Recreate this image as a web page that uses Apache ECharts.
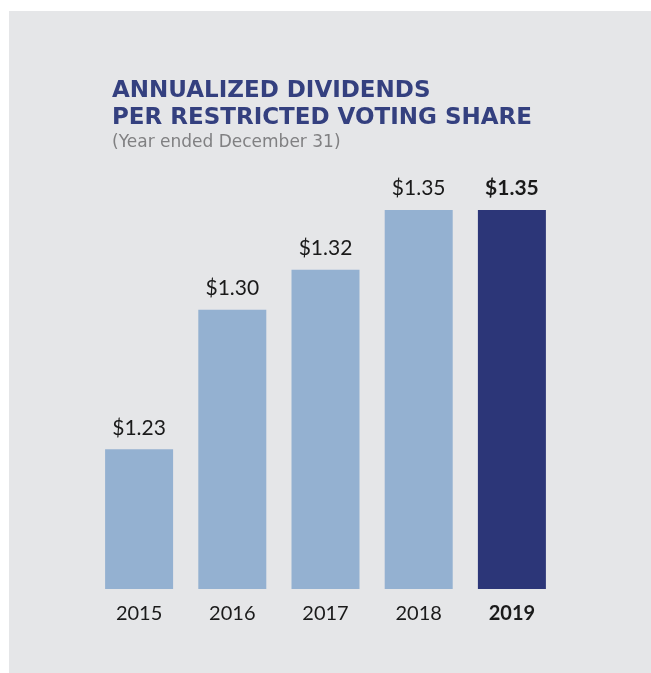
<!DOCTYPE html>
<html>
<head>
<meta charset="utf-8">
<script src="https://cdn.jsdelivr.net/npm/echarts@6/dist/echarts.min.js"></script>
<style>
  html, body { margin: 0; padding: 0; background: #ffffff; }
  #chart { width: 651px; height: 673px; }
</style>
</head>
<body>
<div id="chart"></div>
<script>
// Annualized dividends per restricted voting share, by year
const years = ['2015', '2016', '2017', '2018', '2019'];
const dividends = [1.23, 1.30, 1.32, 1.35, 1.35];
const highlightYear = '2019';

const lightBlue = '#94B1D1';
const navy = '#2C3678';

const chart = echarts.init(document.getElementById('chart'), null, { renderer: 'canvas' });

const barData = years.map((y, i) => {
  const hi = y === highlightYear;
  return {
    value: dividends[i],
    itemStyle: { color: hi ? navy : lightBlue },
    label: { fontWeight: hi ? 'bold' : 'normal' }
  };
});

chart.setOption({
  backgroundColor: '#ffffff',
  animation: false,
  graphic: [{
    type: 'rect',
    z: -10,
    silent: true,
    shape: { x: 9, y: 11, width: 642, height: 662 },
    style: { fill: '#E5E6E8' }
  }],
  title: {
    text: 'ANNUALIZED DIVIDENDS\nPER RESTRICTED VOTING SHARE',
    subtext: '(Year ended December 31)',
    left: 107,
    top: 73,
    itemGap: 2,
    textStyle: {
      fontFamily: 'DejaVu Sans',
      fontSize: 23,
      fontWeight: 'bold',
      lineHeight: 27,
      color: '#34407F'
    },
    subtextStyle: {
      fontFamily: 'DejaVu Sans',
      fontSize: 17,
      color: '#808082'
    }
  },
  grid: { left: 92.5, right: 92.5, top: 210, bottom: 84, containLabel: false },
  xAxis: {
    type: 'category',
    data: years,
    axisLine: { show: false },
    axisTick: { show: false },
    axisLabel: {
      interval: 0,
      margin: 15,
      fontFamily: 'Lato',
      fontSize: 20,
      color: '#1A1A1A',
      formatter: v => v === highlightYear ? '{b|' + v + '}' : v,
      rich: { b: { fontFamily: 'Lato', fontSize: 20, fontWeight: 'bold', color: '#1A1A1A' } }
    }
  },
  yAxis: {
    type: 'value',
    min: 1.16,
    max: 1.35,
    show: false,
    splitLine: { show: false }
  },
  series: [{
    type: 'bar',
    data: barData,
    barWidth: 68,
    label: {
      show: true,
      position: 'top',
      distance: 11,
      fontFamily: 'Lato',
      fontSize: 21,
      color: '#1A1A1A',
      formatter: p => '$' + p.value.toFixed(2)
    }
  }]
});
</script>
</body>
</html>
